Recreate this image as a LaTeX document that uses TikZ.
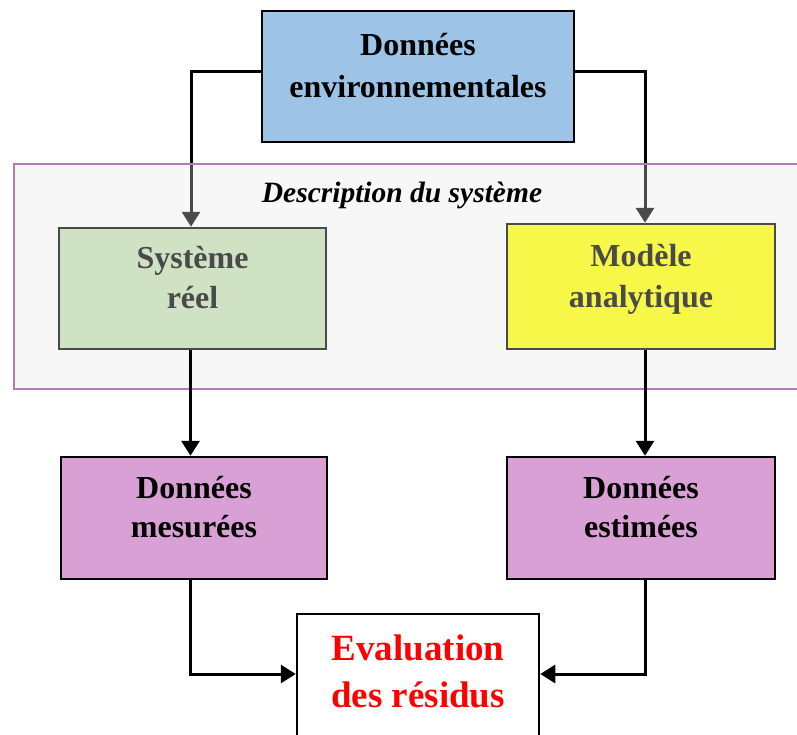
\documentclass[tikz,border=0pt]{standalone}
\usepackage{fontspec}
\setmainfont{Liberation Serif}
\usetikzlibrary{arrows.meta}
\definecolor{envblue}{HTML}{9DC3E6}
\definecolor{sysgreen}{HTML}{C5E0B4}
\definecolor{modyellow}{HTML}{FFFF00}
\definecolor{datapink}{HTML}{D9A0D6}
\definecolor{framefill}{RGB}{231,231,231}
\definecolor{frameline}{HTML}{B07CB8}
\definecolor{evalred}{HTML}{FF0000}
\tikzset{
  box/.style={draw=black, line width=2.5pt, rectangle, inner sep=0pt},
  lbl/.style={anchor=base, inner sep=0pt, font=\fontsize{32}{38}\selectfont\bfseries},
  redlbl/.style={anchor=base, inner sep=0pt, text=evalred, font=\fontsize{37}{44}\selectfont\bfseries},
  conn/.style={draw=black, line width=3pt},
  arr/.style={conn, -{Triangle[length=15pt,width=18pt]}},
}
\begin{document}
\begin{tikzpicture}[x=1pt,y=-1pt]
\useasboundingbox (0,0) rectangle (797,734);
\clip (0,0) rectangle (797,734);
\fill[white] (0,0) rectangle (797,734);

% top box
\node[box, fill=envblue, minimum width=312pt, minimum height=131pt] (env) at (418,76.5) {};
\node[lbl] (envA) at (418,55) {Données};
\node[lbl] (envB) at (418,97) {environnementales};

% inner boxes (under the frame overlay)
\node[box, fill=sysgreen, minimum width=267pt, minimum height=121pt] (sys) at (192.5,288.5) {};
\node[lbl] (sysA) at (192.5,268) {Système};
\node[lbl] (sysB) at (192.5,308) {réel};
\node[box, fill=modyellow, minimum width=268pt, minimum height=125pt] (mod) at (641,286.5) {};
\node[lbl] (modA) at (641,266) {Modèle};
\node[lbl] (modB) at (641,307) {analytique};

% arrows from the top box
\draw[arr] ([yshift=5.5pt]env.west) -| ([xshift=-1.5pt]sys.north);
\draw[arr] ([yshift=5.5pt]env.east) -| ([xshift=4pt]mod.north);

% frame overlay
\fill[framefill, fill opacity=0.32] (14,164) rectangle (830,389);
\draw[frameline, line width=2pt] (14,164) rectangle (830,389);
\node[anchor=base, inner sep=0pt, font=\fontsize{29.5}{35}\selectfont\bfseries\itshape] (desc) at (402,202) {Description du système};

% data boxes
\node[box, fill=datapink, minimum width=266pt, minimum height=122pt] (mes) at (194,518) {};
\node[lbl] (mesA) at (194,498) {Données};
\node[lbl] (mesB) at (194,537) {mesurées};
\node[box, fill=datapink, minimum width=268pt, minimum height=122pt] (est) at (641,518) {};
\node[lbl] (estA) at (641,498) {Données};
\node[lbl] (estB) at (641,537) {estimées};

\draw[arr] ([xshift=-2pt]sys.south) -- ([xshift=-3.5pt]mes.north);
\draw[arr] ([xshift=4pt]mod.south) -- ([xshift=4pt]est.north);

% evaluation box
\node[box, fill=white, minimum width=242pt, minimum height=166pt] (eva) at (418,697) {};
\node[redlbl] (evaA) at (418,660) {Evaluation};
\node[redlbl] (evaB) at (418,707) {des résidus};

\draw[arr] ([xshift=-3.5pt]mes.south) |- ([yshift=23pt]eva.west);
\draw[arr] ([xshift=4pt]est.south) |- ([yshift=23pt]eva.east);
\end{tikzpicture}
\end{document}
